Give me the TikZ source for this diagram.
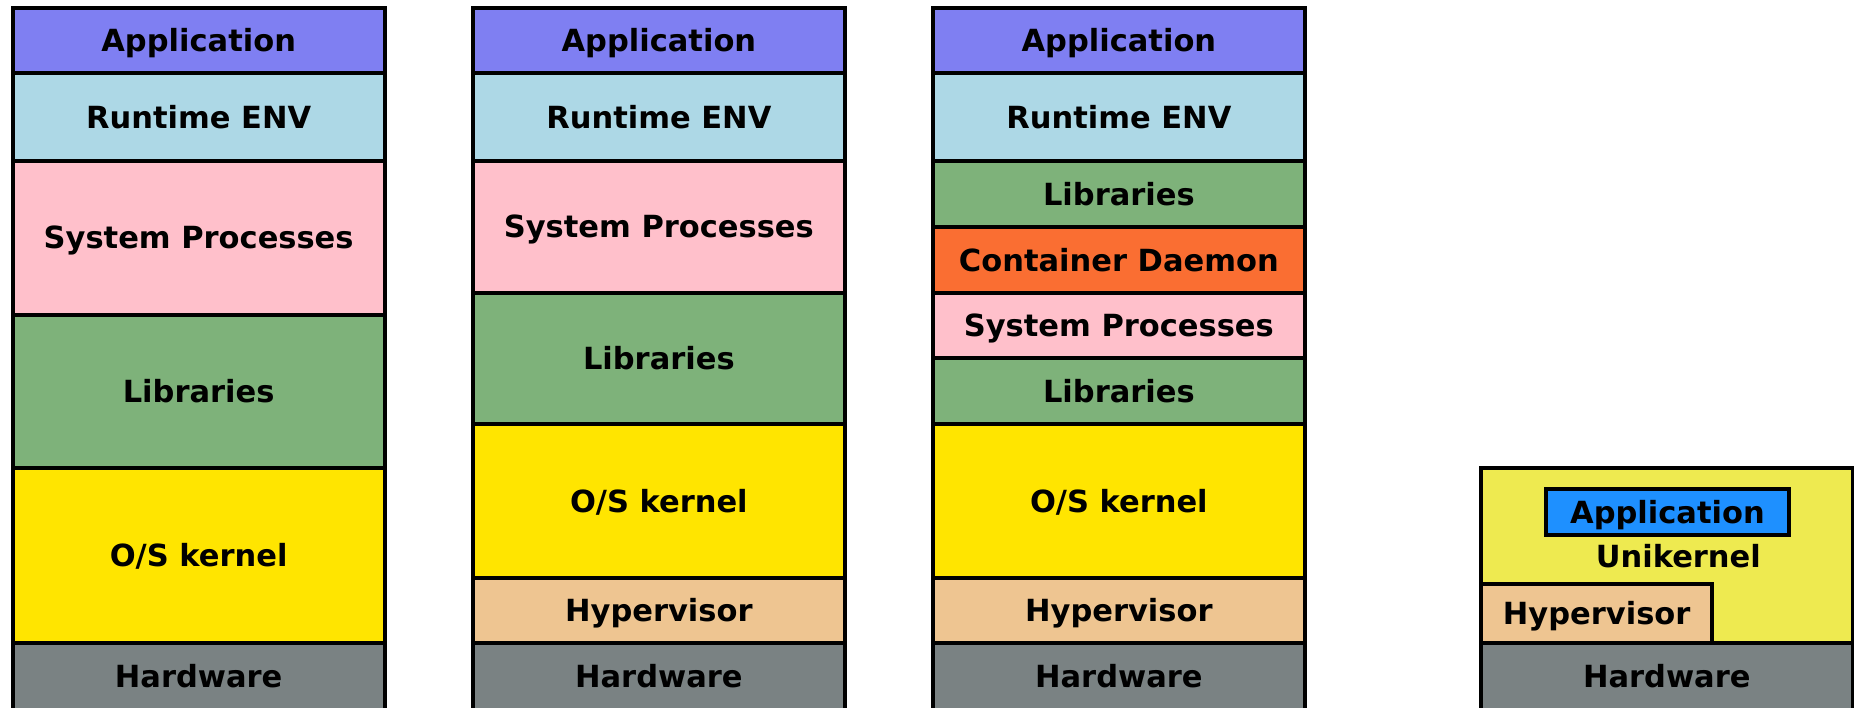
\documentclass[tikz,border=0pt]{standalone}
\usepackage{fontspec}
\setmainfont{DejaVu Sans}
\definecolor{cApp}{RGB}{127,127,242}
\definecolor{cRun}{RGB}{173,216,230}
\definecolor{cSys}{RGB}{255,192,203}
\definecolor{cLib}{RGB}{126,178,122}
\definecolor{cOS}{RGB}{255,229,0}
\definecolor{cHyp}{RGB}{238,197,145}
\definecolor{cHw}{RGB}{122,130,131}
\definecolor{cCon}{RGB}{250,110,50}
\definecolor{cUni}{RGB}{238,234,80}
\definecolor{cUApp}{RGB}{30,144,255}
\begin{document}
\begin{tikzpicture}[x=1pt,y=-1pt,
  lbl/.style={font=\fontsize{30.5}{36}\selectfont\bfseries, text=black, text height=22.2pt, text depth=0pt, inner sep=0pt},
  layer/.style={lbl, draw=black, line width=4pt, minimum width=372.3pt},
]
\useasboundingbox (0,0) rectangle (1854,707);
\clip (0,0) rectangle (1854,707);
% Stack 1
\node[layer, fill=cApp, minimum height=65pt]    (a1) at (198.65,40.8)   {Application};
\node[layer, fill=cRun, minimum height=87.7pt]  (r1) at (198.65,117.15) {Runtime ENV};
\node[layer, fill=cSys, minimum height=153.5pt] (s1) at (198.65,237.75) {System Processes};
\node[layer, fill=cLib, minimum height=153.7pt] (l1) at (198.65,391.35) {Libraries};
\node[layer, fill=cOS,  minimum height=175pt]   (k1) at (198.65,555.7)  {O/S kernel};
\node[layer, fill=cHw,  minimum height=66.8pt]  (h1) at (198.65,676.6)  {Hardware};
% Stack 2
\node[layer, fill=cApp, minimum height=65pt]    (a2) at (658.85,40.8)   {Application};
\node[layer, fill=cRun, minimum height=87.7pt]  (r2) at (658.85,117.15) {Runtime ENV};
\node[layer, fill=cSys, minimum height=131.5pt] (s2) at (658.85,226.75) {System Processes};
\node[layer, fill=cLib, minimum height=131.5pt] (l2) at (658.85,358.25) {Libraries};
\node[layer, fill=cOS,  minimum height=154.2pt] (k2) at (658.85,501.1)  {O/S kernel};
\node[layer, fill=cHyp, minimum height=65pt]    (v2) at (658.85,610.7)  {Hypervisor};
\node[layer, fill=cHw,  minimum height=66.8pt]  (h2) at (658.85,676.6)  {Hardware};
% Stack 3
\node[layer, fill=cApp, minimum height=65pt]    (a3) at (1118.85,40.8)   {Application};
\node[layer, fill=cRun, minimum height=87.7pt]  (r3) at (1118.85,117.15) {Runtime ENV};
\node[layer, fill=cLib, minimum height=66.3pt]  (lt3) at (1118.85,194.15) {Libraries};
\node[layer, fill=cCon, minimum height=65.7pt]  (c3) at (1118.85,260.15) {Container Daemon};
\node[layer, fill=cSys, minimum height=65.3pt]  (s3) at (1118.85,325.65) {System Processes};
\node[layer, fill=cLib, minimum height=65.7pt]  (l3) at (1118.85,391.15) {Libraries};
\node[layer, fill=cOS,  minimum height=154.2pt] (k3) at (1118.85,501.1)  {O/S kernel};
\node[layer, fill=cHyp, minimum height=65pt]    (v3) at (1118.85,610.7)  {Hypervisor};
\node[layer, fill=cHw,  minimum height=66.8pt]  (h3) at (1118.85,676.6)  {Hardware};
% Stack 4
\node[layer, fill=cUni, minimum width=371.5pt, minimum height=174.7pt] (u4) at (1666.75,555.65) {};
\node[lbl] (ut4) at (1678.3,556.2) {Unikernel};
\node[layer, fill=cUApp, minimum width=243.3pt, minimum height=45.4pt] (a4) at (1667.4,512) {Application};
\node[layer, fill=cHyp, minimum width=231.3pt, minimum height=58.7pt] (v4) at (1596.65,613.65) {Hypervisor};
\node[layer, fill=cHw, minimum width=371.5pt, minimum height=67pt] (h4) at (1666.75,676.5) {Hardware};
\end{tikzpicture}
\end{document}
